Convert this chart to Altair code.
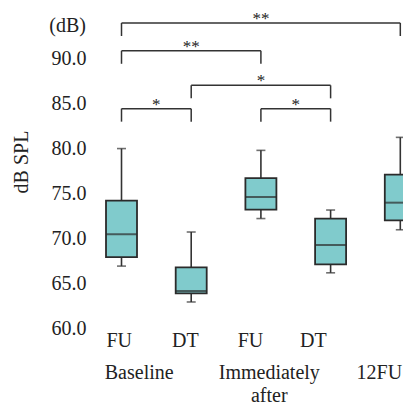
import altair as alt
import pandas as pd

# ---- data ----
box_pos = [1, 2, 3, 4, 5]
whisker_hi = [80.0, 70.7, 79.8, 73.15, 81.25]
q3 = [74.2, 66.75, 76.7, 72.2, 77.1]
median = [70.45, 64.12, 74.6, 69.25, 73.97]
q1 = [67.9, 63.87, 73.2, 67.1, 72.0]
whisker_lo = [66.9, 62.9, 72.2, 66.15, 70.95]

bracket_from = [1, 1, 2, 1, 3]
bracket_to = [5, 3, 4, 2, 4]
bracket_level = [94.0, 90.9, 87.05, 84.45, 84.45]
bracket_label = ["**", "**", "*", "*", "*"]

sub_labels = ["FU", "DT", "FU", "DT"]
sub_label_pos = [0.967, 1.915, 2.851, 3.752]
group_labels = [["Baseline"], ["Immediately", "after"], ["12FU"]]
group_label_pos = [1.254, 3.12, 4.70]

y_ticks = [60, 65, 70, 75, 80, 85, 90]

# ---- tables ----
boxes = pd.DataFrame({"pos": box_pos, "whi": whisker_hi, "q3": q3,
                      "med": median, "q1": q1, "wlo": whisker_lo})
brackets = pd.DataFrame({"from": bracket_from, "to": bracket_to,
                         "level": bracket_level, "label": bracket_label})
subs = pd.DataFrame({"pos": sub_label_pos, "label": sub_labels})
groups = pd.DataFrame({"pos": group_label_pos, "label": group_labels})

FONT = "Liberation Serif"
INK = "#222222"
LINE = "#333333"
FILL = "#80CBCC"

xscale = alt.Scale(domain=[0.548, 5.0387], nice=False, zero=False, padding=0)
yscale = alt.Scale(domain=[60, 95], nice=False, zero=False, padding=0)
yaxis = alt.Axis(values=y_ticks, format=".1f", domain=False, ticks=False, grid=False,
                 labelPadding=4, labelFont=FONT, labelFontSize=20, labelColor=INK,
                 titleFont=FONT, titleFontSize=20, titleFontWeight="normal",
                 titleColor=INK, titleAngle=270, titleAlign="center",
                 titleBaseline="alphabetic", titleX=-63, titleY=147.5)


def X(f):
    return alt.X(f, type="quantitative", scale=xscale, axis=None)


def Y(f):
    return alt.Y(f, type="quantitative", scale=yscale, axis=yaxis, title="dB SPL")


base_box = alt.Chart(boxes)

upper = base_box.mark_rule(color=LINE, strokeWidth=1.6, clip=True).encode(
    x=X("pos"), y=Y("q3"), y2="whi")
lower = base_box.mark_rule(color=LINE, strokeWidth=1.6, clip=True).encode(
    x=X("pos"), y=Y("wlo"), y2="q1")
cap_hi = base_box.mark_tick(orient="horizontal", size=9, thickness=1.6,
                            color=LINE, clip=True).encode(x=X("pos"), y=Y("whi"))
cap_lo = base_box.mark_tick(orient="horizontal", size=9, thickness=1.6,
                            color=LINE, clip=True).encode(x=X("pos"), y=Y("wlo"))
box = base_box.mark_bar(size=31, color=FILL, stroke="#2b2b2b", strokeWidth=1.8,
                        clip=True).encode(x=X("pos"), y=Y("q1"), y2="q3")
med = base_box.mark_tick(orient="horizontal", size=31, thickness=2,
                         color="#2b2b2b", clip=True).encode(x=X("pos"), y=Y("med"))

base_br = alt.Chart(brackets).transform_calculate(
    tip="datum.level - 1.45", mid="(datum['from'] + datum['to']) / 2")
br_h = base_br.mark_rule(color=LINE, strokeWidth=1.5).encode(
    x=X("from"), x2="to", y=Y("level"))
br_l = base_br.mark_rule(color=LINE, strokeWidth=1.5).encode(
    x=X("from"), y=Y("level"), y2="tip:Q")
br_r = base_br.mark_rule(color=LINE, strokeWidth=1.5).encode(
    x=X("to"), y=Y("level"), y2="tip:Q")
br_t = base_br.mark_text(font=FONT, fontSize=17, color=INK, baseline="alphabetic",
                         dy=1).encode(x=X("mid:Q"), y=Y("level"), text="label:N")

sub_t = alt.Chart(subs).mark_text(font=FONT, fontSize=20, color=INK,
                                  baseline="alphabetic").encode(
    x=X("pos"), y=alt.value(332.5), text="label:N")
grp_t = alt.Chart(groups).mark_text(font=FONT, fontSize=20, color=INK,
                                    baseline="alphabetic", lineHeight=23).encode(
    x=X("pos"), y=alt.value(365), text="label")
unit_t = alt.Chart(pd.DataFrame({"label": ["(dB)"]})).mark_text(
    font=FONT, fontSize=20, color=INK, align="right", baseline="alphabetic").encode(
    x=alt.value(-4), y=alt.value(18), text="label:N")

chart = alt.layer(
    upper, lower, cap_hi, cap_lo, box, med,
    br_h, br_l, br_r, br_t, sub_t, grp_t, unit_t
).properties(
    width=313, height=314,
    padding={"left": 82, "top": 6, "right": 0, "bottom": 79},
    autosize=alt.AutoSizeParams(type="none"),
).configure_view(stroke=None)

chart.save("out.html", embed_options={"renderer": "svg", "actions": False})
